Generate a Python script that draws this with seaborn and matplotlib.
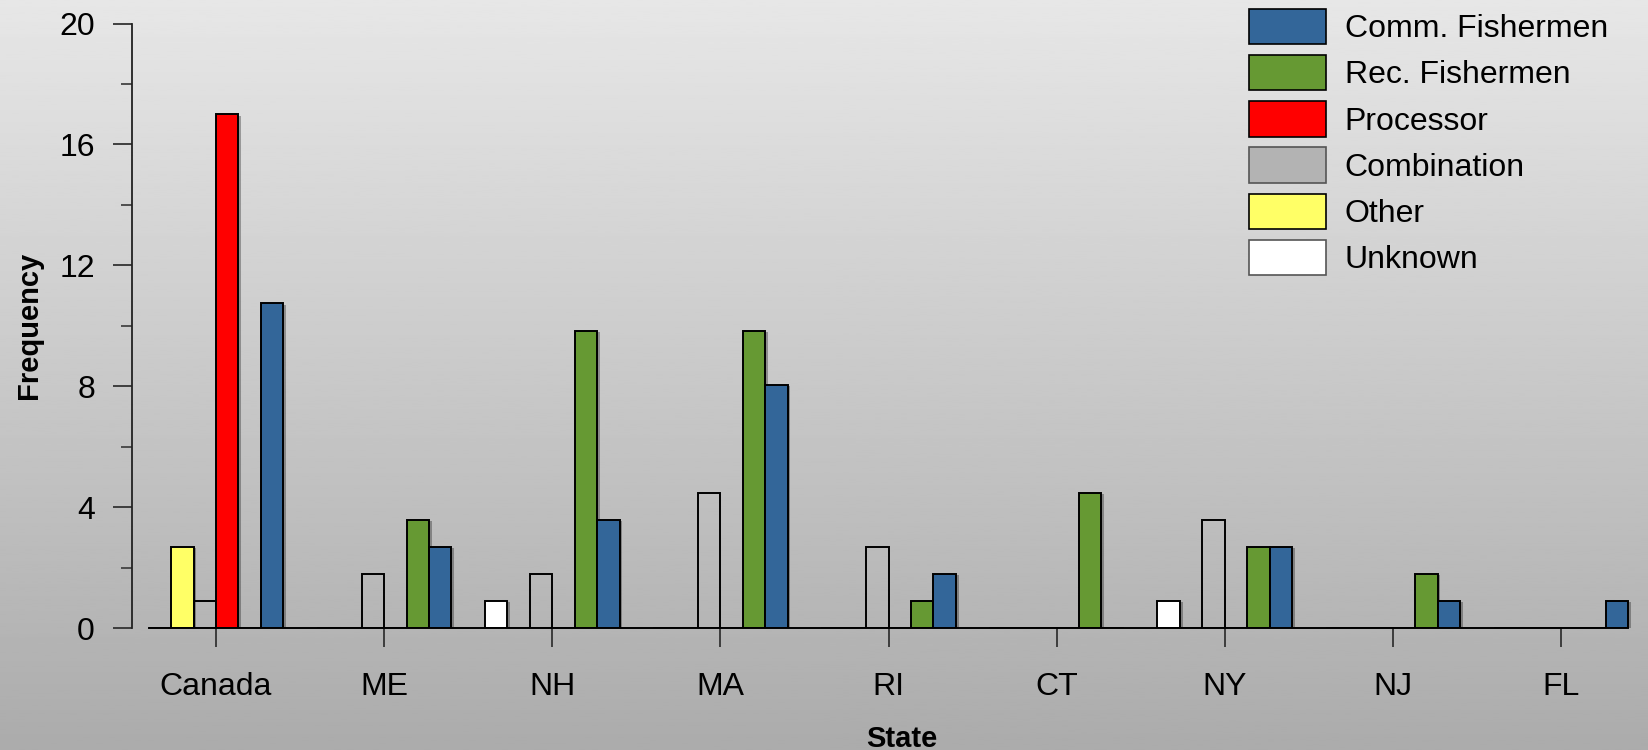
import numpy as np
import pandas as pd
import matplotlib
matplotlib.use("Agg")
import matplotlib.pyplot as plt
import matplotlib.patheffects as pe
from matplotlib.patches import Patch
from matplotlib.ticker import MultipleLocator
import seaborn as sns

# ---------------------------------------------------------------------------
# Data
# ---------------------------------------------------------------------------
states = ["Canada", "ME", "NH", "MA", "RI", "CT", "NY", "NJ", "FL"]
groups = ["Unknown", "Other", "Combination", "Processor",
          "Rec. Fishermen", "Comm. Fishermen"]

unknown = [0, 0, 0.89, 0, 0, 0, 0.89, 0, 0]
other = [2.68, 0, 0, 0, 0, 0, 0, 0, 0]
combination = [0.89, 1.79, 1.79, 4.47, 2.68, 0, 3.58, 0, 0]
processor = [17.0, 0, 0, 0, 0, 0, 0, 0, 0]
rec_fishermen = [0, 3.58, 9.84, 9.84, 0.89, 4.47, 2.68, 1.79, 0]
comm_fishermen = [10.74, 2.68, 3.58, 8.05, 1.79, 0, 2.68, 0.89, 0.89]

colors = {"Unknown": "#ffffff", "Other": "#ffff66", "Combination": "#b3b3b3",
          "Processor": "#ff0000", "Rec. Fishermen": "#669933",
          "Comm. Fishermen": "#336699"}

series = [unknown, other, combination, processor, rec_fishermen, comm_fishermen]
df = pd.DataFrame({
    "State": np.tile(states, len(groups)),
    "Group": np.repeat(groups, len(states)),
    "Frequency": np.concatenate(series),
})

# ---------------------------------------------------------------------------
# Figure
# ---------------------------------------------------------------------------
sns.set_theme(style="ticks")
plt.rcParams["font.family"] = ["Liberation Sans", "DejaVu Sans"]
plt.rcParams["text.color"] = "black"
plt.rcParams["axes.labelcolor"] = "black"

fig = plt.figure(figsize=(16.48, 7.5), dpi=100)

# gradient background
bg = fig.add_axes([0, 0, 1, 1], zorder=-10)
grad = np.linspace(0.905, 0.672, 256).reshape(-1, 1)
bg.imshow(grad, aspect="auto", cmap="gray", vmin=0, vmax=1,
          extent=[0, 1, 0, 1])
bg.set_axis_off()

ax = fig.add_axes([132 / 1648, 1 - 628 / 750, 1513 / 1648, 604.5 / 750])
ax.patch.set_alpha(0)

sns.barplot(data=df, x="State", y="Frequency", hue="Group",
            hue_order=groups, order=states, palette=colors, saturation=1,
            errorbar=None, width=0.8, edgecolor="black", linewidth=1.4,
            legend=False, ax=ax)

shadow = [pe.SimplePatchShadow(offset=(2, -1), shadow_rgbFace="black",
                               alpha=0.3), pe.Normal()]
for grp, cont in zip(groups, ax.containers):
    for bar in cont:
        if grp == "Combination":
            bar.set_facecolor("none")
        else:
            bar.set_path_effects(shadow)

ax.set_xlim(-0.5, 8.5)
ax.set_ylim(0, 20)
ax.yaxis.set_major_locator(MultipleLocator(4))
ax.yaxis.set_minor_locator(MultipleLocator(2))

sns.despine(ax=ax)
ax.spines["left"].set_linewidth(1.3)
ax.spines["left"].set_color("#222222")
ax.spines["bottom"].set_linewidth(1.4)
ax.spines["bottom"].set_color("black")
ax.spines["bottom"].set_bounds(-0.4, 8.4)

ax.tick_params(axis="both", which="major", length=13.7, width=1.3,
               colors="#333333", labelcolor="black", labelsize=23)
ax.tick_params(axis="y", which="minor", length=8, width=1.3, colors="#444444")
ax.tick_params(axis="y", pad=13)
ax.tick_params(axis="x", pad=18)

ax.set_xlabel("State", fontsize=21, fontweight="bold")
ax.set_ylabel("Frequency", fontsize=21, fontweight="bold")
ax.xaxis.set_label_coords(0.509, -0.16)
ax.yaxis.set_label_coords(-0.059, 0.5)

handles = []
for grp in reversed(groups):
    edge = "#555555" if grp in ("Combination", "Unknown") else "black"
    handles.append(Patch(facecolor=colors[grp], edgecolor=edge, linewidth=1.2))
fig.legend(handles, list(reversed(groups)), loc="upper left",
           bbox_to_anchor=(1249 / 1648, 1 - 9 / 750), frameon=False,
           fontsize=23, handlelength=2.4, handleheight=1.32,
           labelspacing=0.34, handletextpad=0.6, borderpad=0,
           borderaxespad=0)

fig.savefig("out.png", dpi=100)
plt.close(fig)
